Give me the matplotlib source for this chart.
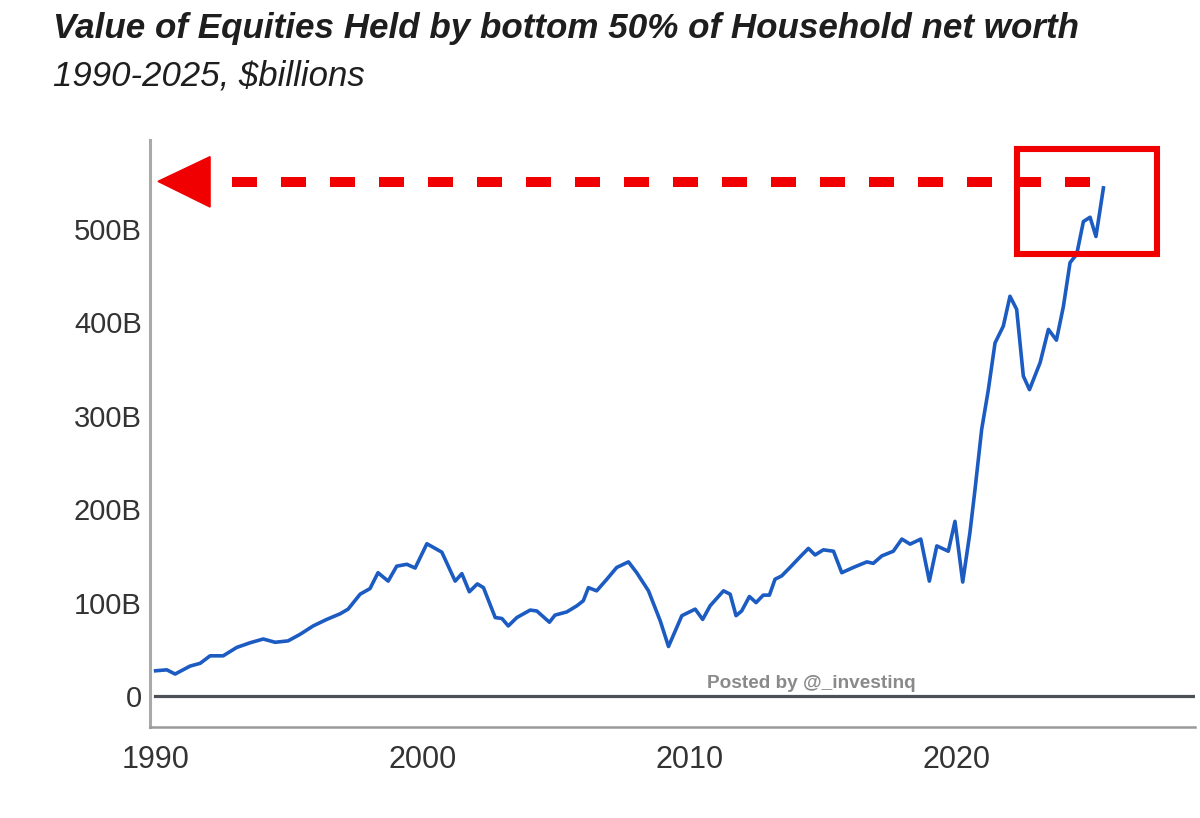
import numpy as np
import matplotlib
matplotlib.use("Agg")
import matplotlib.pyplot as plt
from matplotlib.patches import Rectangle, Polygon

######################################
# data (year, $billions)

years = [1990.0, 1990.42, 1990.73, 1991.29, 1991.67, 1992.04, 1992.53, 1993.04, 1993.54, 1994.03,
         1994.48, 1994.96, 1995.41, 1995.90, 1996.41, 1996.91, 1997.21, 1997.66, 1998.03, 1998.33,
         1998.71, 1999.03, 1999.41, 1999.72, 2000.16, 2000.72, 2001.22, 2001.47, 2001.75, 2002.05,
         2002.28, 2002.72, 2002.97, 2003.21, 2003.53, 2004.03, 2004.28, 2004.75, 2004.96, 2005.40,
         2005.78, 2006.02, 2006.21, 2006.52, 2006.90, 2007.27, 2007.71, 2008.02, 2008.46, 2008.90,
         2009.21, 2009.71, 2010.21, 2010.49, 2010.77, 2011.27, 2011.52, 2011.74, 2011.95, 2012.24,
         2012.49, 2012.76, 2012.99, 2013.20, 2013.45, 2013.76, 2014.14, 2014.45, 2014.70, 2015.01,
         2015.39, 2015.70, 2016.13, 2016.64, 2016.88, 2017.20, 2017.63, 2017.95, 2018.26, 2018.66,
         2018.98, 2019.26, 2019.69, 2019.94, 2020.23, 2020.50, 2020.69, 2020.94, 2021.19, 2021.44,
         2021.75, 2022.00, 2022.25, 2022.50, 2022.73, 2023.13, 2023.44, 2023.74, 2024.00, 2024.25,
         2024.50, 2024.75, 2025.00, 2025.22, 2025.50]

equities = [27, 28, 23.5, 32, 35, 43, 43, 52, 57, 61,
            57.5, 59, 66, 75, 82, 88, 93, 109, 115, 132,
            123, 139, 141, 137, 163, 154, 123, 131, 111.6, 120,
            116, 84, 83, 75, 84, 92, 91, 79, 86.6, 90,
            96.6, 102, 116, 112.6, 125, 137.6, 143.6, 132, 112.6, 80.5,
            53, 86, 93, 82, 96.6, 112.6, 109, 86, 91, 106.5,
            100, 108, 108, 125, 128.6, 137.6, 149, 158, 151, 156.5,
            155, 132, 137.6, 143.6, 142, 150, 155, 168, 162.6, 168,
            123, 160.7, 155, 187, 122, 175, 221, 285.5, 328, 378,
            396, 428, 414, 342.6, 328, 357, 392.5, 381, 417, 464,
            473, 508, 512.6, 492, 544]

x_ticks = [1990, 2000, 2010, 2020]
y_ticks = [0, 100, 200, 300, 400, 500]
y_tick_labels = ["0", "100B", "200B", "300B", "400B", "500B"]

title = "Value of Equities Held by bottom 50% of Household net worth"
subtitle = "1990-2025, $billions"
credit = "Posted by @_investinq"

plt.rcParams['font.family'] = ['Liberation Sans', 'DejaVu Sans']

#######################################
# figure and axes

fig = plt.figure(figsize=(12, 8.18), dpi=100)
fig.patch.set_facecolor("white")
ax = fig.add_axes([150 / 1200, (818 - 727) / 818, (1195 - 150) / 1200, (727 - 140) / 818])

ax.plot(years, equities, color="#1b5bc2", lw=2.6, solid_joinstyle="round", zorder=3)

ax.axhline(0, xmin=0.005, color="#4b5157", lw=2.3, zorder=2)

ax.set_xlim(1989.79, 2028.93)
ax.set_ylim(-33.2, 595.3)
ax.set_xticks(x_ticks)
ax.set_yticks(y_ticks)
ax.set_yticklabels(y_tick_labels)
ax.tick_params(axis="both", length=0, labelcolor="#333333")
ax.tick_params(axis="y", pad=6, labelsize=21)
ax.tick_params(axis="x", pad=13, labelsize=22)

for side in ["top", "right"]:
    ax.spines[side].set_visible(False)
ax.spines["left"].set_color("#a9a9a9")
ax.spines["left"].set_linewidth(2.2)
ax.spines["bottom"].set_color("#9a9a9a")
ax.spines["bottom"].set_linewidth(1.8)

#######################################
# red annotation: dashed arrow to the axis + box round the latest values

ax.plot([1992.87, 2025.2], [550, 550], color="#f00000", lw=7.2,
        linestyle=(0, (2.5, 2.4)), dash_capstyle="butt", zorder=4, clip_on=False)
ax.add_patch(Polygon([[1990.09, 551], [1992.04, 577.5], [1992.04, 523.5]],
                     closed=True, color="#f00000", zorder=4, clip_on=False))
ax.add_patch(Rectangle((2022.27, 473.3), 2027.51 - 2022.27, 585.7 - 473.3,
                       fill=False, edgecolor="#f00000", lw=4.4, zorder=4, clip_on=False))

#######################################
# texts

fig.text(53 / 1200, 1 - 38 / 818, title, fontsize=25.2, fontweight="bold", style="italic",
         color="#1e1e1e", va="baseline", ha="left")
fig.text(53 / 1200, 1 - 86 / 818, subtitle, fontsize=25, style="italic",
         color="#1e1e1e", va="baseline", ha="left")
fig.text(707 / 1200, 1 - 688 / 818, credit, fontsize=13.7, fontweight="bold",
         color="#8a8a8a", va="baseline", ha="left")

fig.savefig("out.png", dpi=100, facecolor="white")
